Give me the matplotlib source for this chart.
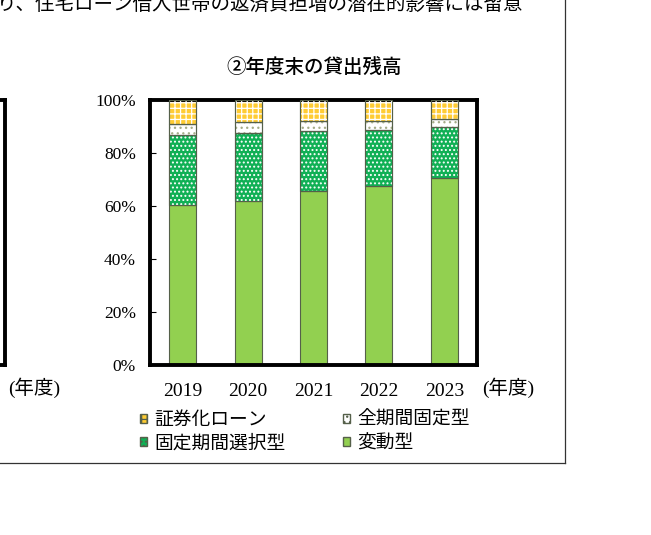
import matplotlib.pyplot as plt
from matplotlib.patches import Patch
from matplotlib.lines import Line2D

plt.rcParams['font.family'] = ['Noto Sans CJK JP', 'DejaVu Sans']
plt.rcParams['hatch.linewidth'] = 0.9

# data (share of outstanding loans, %)
years = ['2019', '2020', '2021', '2022', '2023']
variable = [60.3, 62.0, 65.6, 67.7, 70.5]          # 変動型
fixed_select = [26.6, 25.7, 22.8, 21.0, 19.2]      # 固定期間選択型
fixed_full = [3.9, 3.9, 3.8, 3.5, 3.3]             # 全期間固定型
securitized = [9.2, 8.4, 7.8, 7.8, 7.0]            # 証券化ローン
yticks = [0, 20, 40, 60, 80, 100]

W, H = 651, 535
fig = plt.figure(figsize=(W / 100, H / 100), dpi=100)


def px(x0, y0, x1, y1):
    # pixel box (top-left origin) -> figure fraction rect
    return [x0 / W, 1 - y1 / H, (x1 - x0) / W, (y1 - y0) / H]


# heading cut off at the very top, as in the source
fig.text(-3 / W, 1 - 4 / H, 'り、住宅ローン借入世帯の返済負担増の潜在的影響には留意',
         fontsize=14, va='center', ha='left')

# edge of the neighbouring panel on the left
axl = fig.add_axes(px(-300, 100, 4.5, 365))
axl.set_xticks([])
axl.set_yticks([])
for s in axl.spines.values():
    s.set_linewidth(2.8)
fig.text(8 / W, 1 - 388 / H, '(年度)', fontsize=14, va='center', ha='left',
         family=['Liberation Serif', 'Noto Sans CJK JP'])

# main panel
ax = fig.add_axes(px(150, 100, 477, 365))
x = list(range(len(years)))
bw = 0.41
edge = '#55604a'

layers = [
    (variable, '#92D050', None, None),
    (fixed_select, '#10B055', '....', 'white'),
    (fixed_full, 'white', '...', '#a4ac88'),
    (securitized, '#FFCC33', '+++', 'white'),
]
bottom = [0] * len(years)
for vals, fc, hatch, hc in layers:
    ax.bar(x, vals, bw, bottom=bottom, color=fc, edgecolor=edge, linewidth=0.8, zorder=2)
    if hatch:
        ax.bar(x, vals, bw, bottom=bottom, facecolor='none', edgecolor=hc,
               hatch=hatch, linewidth=0, zorder=3)
        ax.bar(x, vals, bw, bottom=bottom, facecolor='none', edgecolor=edge,
               linewidth=0.8, zorder=4)
    bottom = [b + v for b, v in zip(bottom, vals)]

ax.set_xlim(-0.5, len(years) - 0.5)
ax.set_ylim(0, 100)
ax.set_yticks(yticks)
ax.set_yticklabels([f'{v}%' for v in yticks])
ax.set_xticks(x)
ax.set_xticklabels(years)
ax.tick_params(axis='y', direction='in', length=4, width=0.8, pad=10)
ax.tick_params(axis='x', length=0, pad=13)
for lab in ax.get_xticklabels():
    lab.set_family('Liberation Serif')
    lab.set_fontsize(14)
for lab in ax.get_yticklabels():
    lab.set_family('Liberation Serif')
    lab.set_fontsize(12.5)
for s in ax.spines.values():
    s.set_linewidth(2.8)

fig.text(482 / W, 1 - 388 / H, '(年度)', fontsize=14, va='center', ha='left',
         family=['Liberation Serif', 'Noto Sans CJK JP'])
fig.text(314.5 / W, 1 - 67 / H, '②年度末の貸出残高', fontsize=14,
         fontweight='medium', ha='center', va='center')

# legend (column-major order)
handles = [
    Patch(facecolor='#FFCC33', edgecolor=edge, hatch='+++', label='証券化ローン'),
    Patch(facecolor='#10B055', edgecolor=edge, hatch='....', label='固定期間選択型'),
    Patch(facecolor='white', edgecolor=edge, hatch='...', label='全期間固定型'),
    Patch(facecolor='#92D050', edgecolor=edge, label='変動型'),
]
fig.legend(handles=handles, ncol=2, loc='upper left',
           bbox_to_anchor=(140 / W, 1 - 409 / H), frameon=False, fontsize=13.5,
           handlelength=0.38, handleheight=0.38, handletextpad=0.38,
           columnspacing=3.05, labelspacing=0.12, borderpad=0, borderaxespad=0)

# outer frame of the figure box
fig.add_artist(Line2D([565 / W, 565 / W], [1, 1 - 463 / H], color='#333333', lw=0.9))
fig.add_artist(Line2D([0, 565 / W], [1 - 463 / H, 1 - 463 / H], color='#333333', lw=0.9))

fig.savefig('out.png', dpi=100)
